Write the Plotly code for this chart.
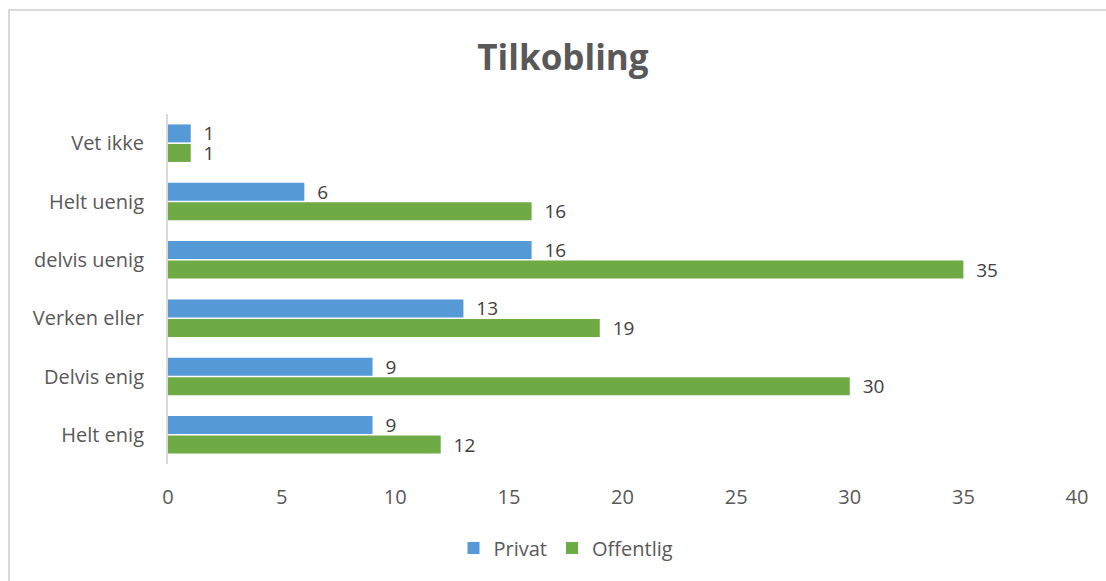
import plotly.graph_objects as go

categories = ["Helt enig", "Delvis enig", "Verken eller", "delvis uenig", "Helt uenig", "Vet ikke"]
privat = [9, 9, 13, 16, 6, 1]
offentlig = [12, 30, 19, 35, 16, 1]
x_ticks = [0, 5, 10, 15, 20, 25, 30, 35, 40]

W, H = 1106, 581
L, R, T, B = 168, 29, 114, 117
pw, ph = W - L - R, H - T - B

font_family = "'Open Sans', 'Noto Sans', sans-serif"

fig = go.Figure()
fig.add_trace(go.Bar(
    y=categories, x=offentlig, name="Offentlig", orientation="h",
    marker=dict(color="#6EAB45", line=dict(width=0)),
    text=offentlig, texttemplate="  %{x}", textposition="outside",
    constraintext="none",
    textfont=dict(size=19, color="#404040", family=font_family),
    cliponaxis=False,
))
fig.add_trace(go.Bar(
    y=categories, x=privat, name="Privat", orientation="h",
    marker=dict(color="#5599D6", line=dict(width=0)),
    text=privat, texttemplate="  %{x}", textposition="outside",
    constraintext="none",
    textfont=dict(size=19, color="#404040", family=font_family),
    cliponaxis=False,
))

fig.update_layout(
    width=W, height=H,
    margin=dict(l=L, r=R, t=T, b=B, autoexpand=False),
    paper_bgcolor="white", plot_bgcolor="white",
    barmode="group", bargap=0.33, bargroupgap=0.08,
    font=dict(family=font_family, color="#595959"),
    title=dict(text="<b>Tilkobling</b>", x=563 / W, xanchor="center",
               y=1 - 58 / H, yanchor="middle",
               font=dict(size=35, color="#595959", family=font_family)),
    xaxis=dict(range=[0, 40], tickvals=x_ticks, showgrid=False, zeroline=False,
               showline=False, ticks="outside", ticklen=15, tickcolor="rgba(0,0,0,0)",
               tickfont=dict(size=20, color="#595959")),
    yaxis=dict(type="category", categoryorder="array", categoryarray=categories,
               showgrid=False, zeroline=False, showline=True, linecolor="#D9D9D9",
               linewidth=2, ticks="outside", ticklen=18, tickcolor="rgba(0,0,0,0)",
               tickfont=dict(size=20, color="#595959")),
    legend=dict(orientation="h", x=(566 - L) / pw,
                xanchor="center", y=-(548 - (T + ph)) / ph, yanchor="middle",
                traceorder="reversed", font=dict(size=20, color="#595959"),
                itemwidth=30),
    shapes=[dict(type="rect", xref="paper", yref="paper",
                 x0=(9 - L) / pw, x1=(W + 5 - L) / pw,
                 y0=-(H + 5 - (T + ph)) / ph, y1=(T + ph - 10) / ph,
                 line=dict(color="#D9D9D9", width=2), fillcolor="rgba(0,0,0,0)",
                 layer="below")],
    showlegend=True,
)

fig.write_html("out.html")
